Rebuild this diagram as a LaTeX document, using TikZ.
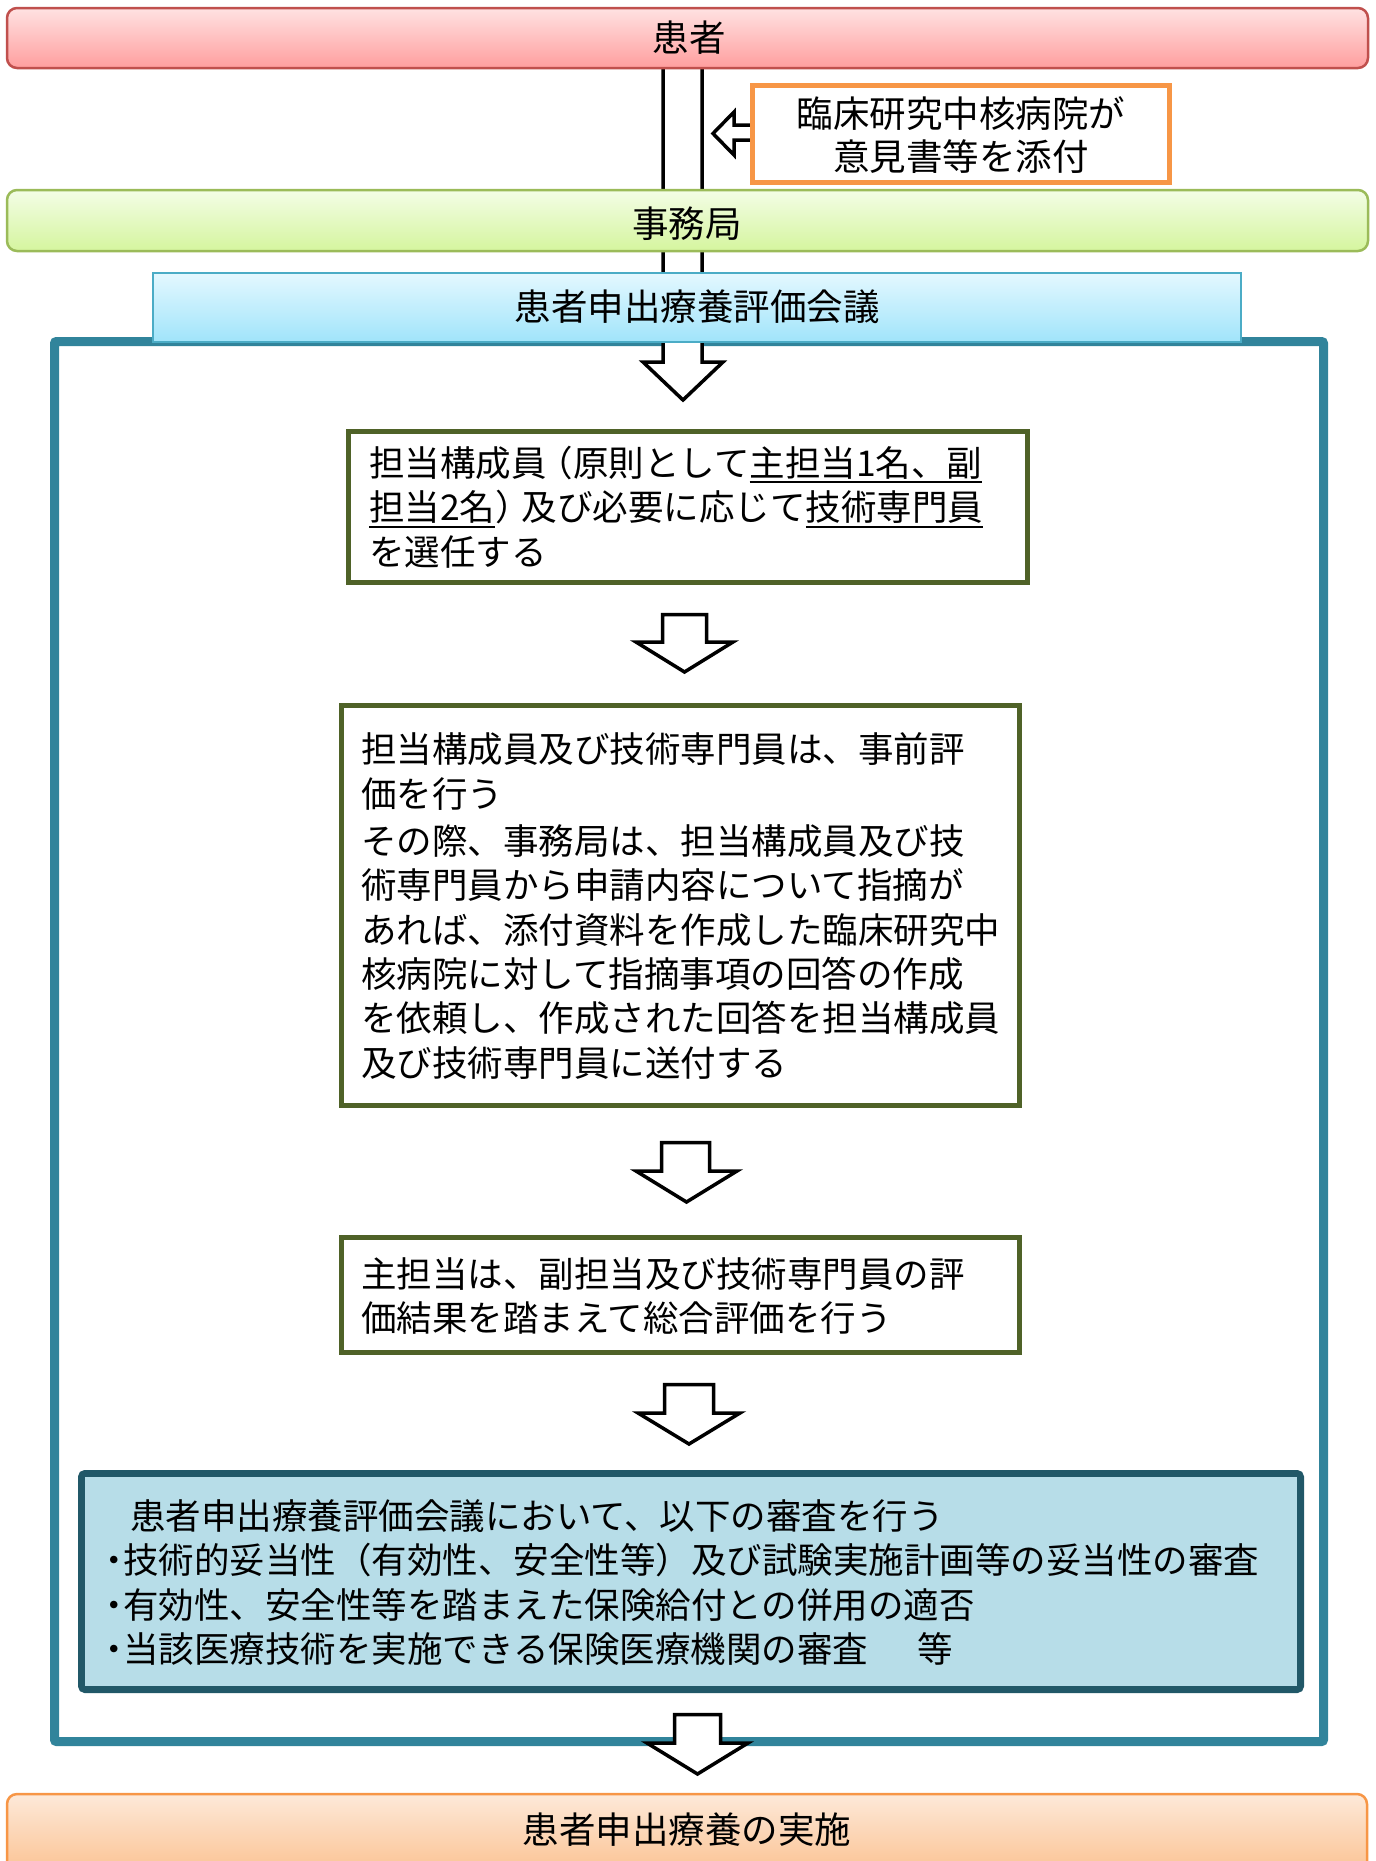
\documentclass[tikz,border=0pt]{standalone}
\usepackage{fontspec}
\setmainfont{Noto Sans CJK JP}
\definecolor{kred}{HTML}{C0504D}
\definecolor{kpinkt}{HTML}{FFE2E2}
\definecolor{kpinkb}{HTML}{FF9E9E}
\definecolor{jgreen}{HTML}{9BBB59}
\definecolor{jgt}{HTML}{F3FDE6}
\definecolor{jgb}{HTML}{D5F59E}
\definecolor{bblue}{HTML}{4BACC6}
\definecolor{bbt}{HTML}{E4F8FF}
\definecolor{bbb}{HTML}{A0E4FA}
\definecolor{oorange}{HTML}{F79646}
\definecolor{frameteal}{HTML}{31849B}
\definecolor{olivebox}{HTML}{4F6228}
\definecolor{darkteal}{HTML}{215868}
\definecolor{lightteal}{HTML}{B7DDE8}
\definecolor{peacht}{HTML}{FDE9D9}
\definecolor{peachb}{HTML}{FBBF8C}
\newcommand{\ulx}[1]{\setbox0\hbox{#1}\rlap{\rule[-7pt]{\wd0}{2pt}}\box0}
\newcommand{\lpx}{\kern-9pt（}
\newcommand{\rpx}{）\kern-9pt}
\begin{document}
\begin{tikzpicture}[x=1pt,y=-1pt,
  jp/.style={font=\fontsize{35.5}{44.3}\selectfont, inner sep=0pt, align=left, anchor=base west},
  jpc/.style={font=\fontsize{36.5}{43}\selectfont, inner sep=0pt, align=center},
  stepbox/.style={draw=olivebox, line width=5pt, fill=white, inner sep=0pt},
  barrow/.style={draw=black, line width=3.5pt, fill=white, line join=miter},
  bar/.style={line width=2.5pt, inner sep=0pt, rounded corners=10pt},
]
\useasboundingbox (0,0) rectangle (1376,1861);

% frame
\node[draw=frameteal, line width=9pt, rounded corners=2pt, minimum width=1269pt, minimum height=1400pt, inner sep=0pt] (frame) at (689,1041.5) {};

% long arrow from patient to first step
\draw[barrow] (663,64) -- (663,362) -- (643,362) -- (683,400) -- (723,362) -- (702,362) -- (702,64) -- cycle;

% bars
\node[bar, draw=kred, top color=kpinkt, bottom color=kpinkb, minimum width=1361pt, minimum height=60pt] (kanja) at (687.5,38) {};
\node[jpc] (kanjat) at (689,38) {患者};

\node[bar, draw=jgreen, top color=jgt, bottom color=jgb, minimum width=1361pt, minimum height=61pt] (jimu) at (687.5,220.5) {};
\node[jpc] (jimut) at (687,224) {事務局};

\node[draw=bblue, line width=2pt, top color=bbt, bottom color=bbb, minimum width=1088pt, minimum height=69pt, inner sep=0pt] (kaigi) at (697,307.5) {};
\node[jpc] (kaigit) at (697,307) {患者申出療養評価会議};

% small arrow from hospital box
\draw[barrow] (752,125) -- (734,125) -- (734,112) -- (713,133.5) -- (734,155) -- (734,140) -- (752,140);
\node[draw=oorange, line width=5pt, fill=white, minimum width=417pt, minimum height=97pt, inner sep=0pt] (hosp) at (961,134) {};
\node[jpc] (hospt) at (961,135) {臨床研究中核病院が\\意見書等を添付};

% step 1
\node[stepbox, minimum width=679pt, minimum height=151pt] (s1) at (688,507) {};
\node[jp] (s1t) at (369,565) {担当構成員\lpx 原則として\ulx{主担当1名、副}\\\ulx{担当2名}\rpx 及び必要に応じて\ulx{技術専門員}\\を選任する};

% arrow 2
\draw[barrow] (662.5,614.5) -- (706.5,614.5) -- (706.5,642) -- (733,642) -- (684.5,672) -- (636,642) -- (662.5,642) -- cycle;

% step 2
\node[stepbox, minimum width=678pt, minimum height=400pt] (s2) at (680.5,905.5) {};
\node[jp] (s2t) at (361,1076) {担当構成員及び技術専門員は、事前評\\価を行う\\[3pt]その際、事務局は、担当構成員及び技\\術専門員から申請内容について指摘が\\あれば、添付資料を作成した臨床研究中\\核病院に対して指摘事項の回答の作成\\を依頼し、作成された回答を担当構成員\\及び技術専門員に送付する};

% arrow 3
\draw[barrow] (661.5,1142.5) -- (709.5,1142.5) -- (709.5,1171) -- (737,1171) -- (686.5,1202) -- (636,1171) -- (661.5,1171) -- cycle;

% step 3
\node[stepbox, minimum width=678pt, minimum height=115pt] (s3) at (680.5,1295) {};
\node[jp] (s3t) at (361,1331.5) {主担当は、副担当及び技術専門員の評\\価結果を踏まえて総合評価を行う};

% arrow 4
\draw[barrow] (664.5,1384.5) -- (713.5,1384.5) -- (713.5,1413) -- (740,1413) -- (689,1444) -- (638,1413) -- (664.5,1413) -- cycle;

% step 4
\node[draw=darkteal, line width=6pt, fill=lightteal, rounded corners=4pt, minimum width=1220pt, minimum height=217pt, inner sep=0pt] (s4) at (691,1581.5) {};
\draw[darkteal, line width=1.5pt] ([shift={(6.5,6.5)}]s4.north west) rectangle ([shift={(-6.5,-6.5)}]s4.south east);
\node[jp] (s4t) at (105,1662.5) {\hspace*{25pt}患者申出療養評価会議において、以下の審査を行う\\\makebox[18pt][c]{・}技術的妥当性（有効性、安全性等）及び試験実施計画等の妥当性の審査\\\makebox[18pt][c]{・}有効性、安全性等を踏まえた保険給付との併用の適否\\\makebox[18pt][c]{・}当該医療技術を実施できる保険医療機関の審査\hspace{50pt}等};

% arrow 5
\draw[barrow] (674.5,1714.5) -- (720.5,1714.5) -- (720.5,1743) -- (748,1743) -- (697.5,1774) -- (647,1743) -- (674.5,1743) -- cycle;

% bottom bar
\node[bar, draw=oorange, top color=peacht, bottom color=peachb, minimum width=1360pt, minimum height=86pt] (jisshi) at (687,1837) {};
\node[jpc] (jisshit) at (687,1830) {患者申出療養の実施};
\end{tikzpicture}
\end{document}
